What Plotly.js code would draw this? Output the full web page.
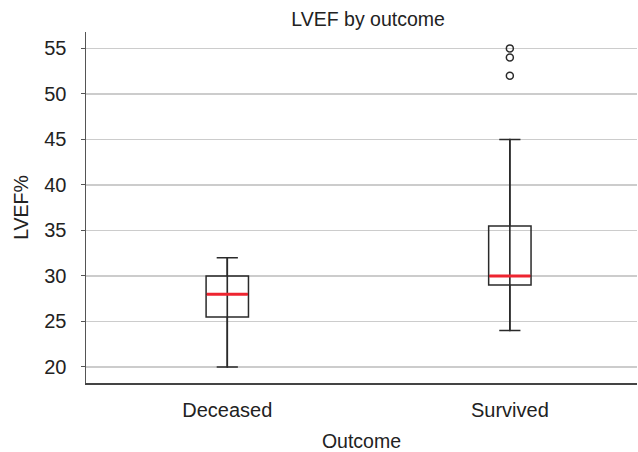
<!DOCTYPE html>
<html>
<head>
<meta charset="utf-8">
<script src="https://cdn.plot.ly/plotly-3.0.1.min.js"></script>
<style>html,body{margin:0;padding:0;background:#fff;}#chart{width:638px;height:452px;}</style>
</head>
<body>
<div id="chart"></div>
<script>
// Data
const categories = ['Deceased', 'Survived'];
const lowerWhisker = [20, 24];
const q1Values = [25.5, 29];
const medianValues = [28, 30];
const q3Values = [30, 35.5];
const upperWhisker = [32, 45];
const outlierCategory = ['Survived', 'Survived', 'Survived'];
const outlierValues = [52, 54, 55];
const yTicks = [20, 25, 30, 35, 40, 45, 50, 55];

const FONT = 'Liberation Sans, Arial, sans-serif';
const TXT = '#222222';
const BOXW = 0.15;

const traces = [
  // main box (transparent fill)
  {
    type: 'box', x: categories, q1: q1Values, median: medianValues, q3: q3Values,
    lowerfence: lowerWhisker, upperfence: upperWhisker,
    width: BOXW, whiskerwidth: 0.5, boxpoints: false,
    fillcolor: 'rgba(0,0,0,0)', line: {color: '#2a2a2a', width: 1.5},
    hoverinfo: 'skip', showlegend: false
  },
  // vertical whisker line running through the box
  {
    type: 'box', x: categories, q1: lowerWhisker, median: lowerWhisker, q3: upperWhisker,
    lowerfence: lowerWhisker, upperfence: upperWhisker,
    width: 0.0005, whiskerwidth: 0, boxpoints: false,
    fillcolor: 'rgba(0,0,0,0)', line: {color: '#2a2a2a', width: 1.5},
    hoverinfo: 'skip', showlegend: false
  },
  // red median line
  {
    type: 'box', x: categories, q1: medianValues, median: medianValues, q3: medianValues,
    lowerfence: medianValues, upperfence: medianValues,
    width: BOXW * 0.97, whiskerwidth: 0, boxpoints: false,
    fillcolor: 'rgba(0,0,0,0)', line: {color: '#ee2530', width: 3},
    hoverinfo: 'skip', showlegend: false
  },
  // outliers
  {
    type: 'scatter', mode: 'markers', x: outlierCategory, y: outlierValues,
    marker: {symbol: 'circle-open', size: 7, color: '#2a2a2a', line: {width: 1.5}},
    hoverinfo: 'skip', showlegend: false
  }
];

const layout = {
  width: 638, height: 452,
  margin: {l: 86, r: 1, t: 32, b: 69},
  paper_bgcolor: '#ffffff', plot_bgcolor: '#ffffff',
  boxmode: 'overlay',
  showlegend: false,
  font: {family: FONT, size: 20, color: TXT},
  title: {
    text: 'LVEF by outcome', font: {family: FONT, size: 19.5, color: TXT},
    x: 0.512, xref: 'paper', xanchor: 'center', y: 1, yref: 'container', yanchor: 'top', pad: {t: 12}
  },
  xaxis: {
    type: 'category', categoryarray: categories, categoryorder: 'array',
    range: [-0.5, 1.45],
    showline: true, linecolor: '#444444', linewidth: 1.5,
    showgrid: false, zeroline: false, ticks: '',
    tickfont: {family: FONT, size: 20, color: TXT},
    ticklabelstandoff: 8,
    title: {text: 'Outcome', font: {family: FONT, size: 19.5, color: TXT}, standoff: 15},
    automargin: false
  },
  yaxis: {
    range: [18.24, 56.8],
    tickvals: yTicks, ticktext: yTicks.map(String),
    showline: true, linecolor: '#555555', linewidth: 1.5,
    showgrid: true, gridcolor: '#cccccc', gridwidth: 1.5,
    zeroline: false, ticks: 'outside', ticklen: 4, tickwidth: 1, tickcolor: '#555555',
    tickfont: {family: FONT, size: 20, color: TXT},
    ticklabelstandoff: 10,
    title: {text: 'LVEF%', font: {family: FONT, size: 19.5, color: TXT}, standoff: 10},
    automargin: false
  }
};

Plotly.newPlot('chart', traces, layout, {staticPlot: true, displayModeBar: false});
</script>
</body>
</html>
